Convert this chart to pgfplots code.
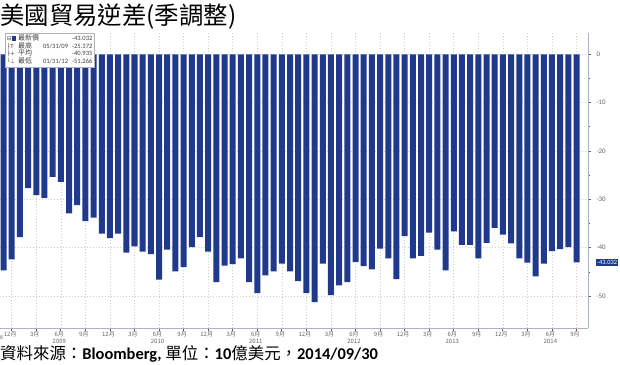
\documentclass[border=0pt]{standalone}
\usepackage{fontspec}
\setmainfont{Carlito}
\newfontfamily\cjk{Noto Sans CJK TC}
\newfontfamily\sym{DejaVu Sans}
\usepackage{pgfplots}
\usepackage{pgfplotstable}
\pgfplotsset{compat=1.18}
\definecolor{barblue}{RGB}{31,58,140}
\definecolor{tickgray}{RGB}{100,100,100}
\definecolor{axgray}{RGB}{170,180,192}

\pgfplotstableread{
i v
1 -44.7
2 -42.4
3 -37.8
4 -27.7
5 -29.1
6 -29.7
7 -25.372
8 -26.4
9 -32.9
10 -31.2
11 -34.5
12 -33.8
13 -37.1
14 -38.0
15 -37.1
16 -41.0
17 -39.7
18 -40.8
19 -41.3
20 -46.6
21 -40.4
22 -44.9
23 -44.0
24 -39.9
25 -37.8
26 -40.8
27 -47.1
28 -43.7
29 -43.4
30 -42.2
31 -47.1
32 -49.4
33 -45.7
34 -44.9
35 -43.3
36 -44.9
37 -46.9
38 -49.4
39 -51.266
40 -43.3
41 -49.8
42 -47.8
43 -47.1
44 -43.0
45 -43.8
46 -44.5
47 -40.2
48 -42.2
49 -46.5
50 -37.6
51 -42.2
52 -41.7
53 -36.9
54 -40.4
55 -44.7
56 -36.6
57 -39.4
58 -39.4
59 -42.2
60 -39.0
61 -35.9
62 -37.3
63 -39.1
64 -42.2
65 -43.1
66 -45.9
67 -43.3
68 -40.7
69 -40.3
70 -39.9
71 -43.032
}\tradedata

\begin{document}
\begin{tikzpicture}[x=1bp,y=1bp]
\path[use as bounding box] (0,-36) rectangle (620,328);
\begin{axis}[
  scale only axis, width=588bp, height=295bp,
  xmin=0.57, xmax=72.4, ymin=-56.6, ymax=4.4,
  axis x line*=bottom, axis y line*=right,
  axis line style={axgray, -},
  ybar, bar width=6bp,
  xtick={2,5,...,71},
  xticklabels={12月,3月,{6月\\2009},9月,12月,3月,{6月\\2010},9月,12月,3月,{6月\\2011},9月,12月,3月,{6月\\2012},9月,12月,3月,{6月\\2013},9月,12月,3月,{6月\\2014},9月},
  xticklabel style={font=\cjk\fontsize{6}{6.5}\selectfont, text=tickgray, align=center, xshift=-1.5bp, inner sep=1pt},
  ytick={-50,-40,-30,-20,-10,0},
  yticklabels={-50,-40,-30,-20,-10,0},
  minor y tick num=1,
  yticklabel style={font=\fontsize{7}{8}\selectfont, text=tickgray, xshift=2bp},
  tick align=outside,
  major tick length=3bp, minor tick length=2bp,
  tick style={black!65, line width=0.8pt},
  xmajorgrids, ymajorgrids,
  grid style={dash pattern=on 0.9bp off 2.1bp, gray!40, line width=0.6pt},
  extra y ticks={-43.032},
  extra y tick labels={-43.032},
  extra y tick style={grid=none, major tick length=0pt,
     yticklabel style={fill=barblue, text=white, inner sep=1pt, font=\fontsize{6.5}{7}\selectfont, xshift=6bp}},
]
\addplot[fill=barblue, draw=none] table[x=i,y=v]{\tradedata};
\end{axis}
% title
\node[anchor=north west, inner sep=0pt, font=\cjk\fontsize{24.5}{26}\selectfont] at (0,324) {美國貿易逆差(季調整)};
% legend box
\node[anchor=north west, draw=gray!60, fill=white, inner sep=1.8bp, text=black!75,
      font=\fontsize{6.6}{6.8}\selectfont] at (5,295) {%
  \renewcommand{\arraystretch}{0.82}%
  \begin{tabular}{@{}l@{\hspace{2bp}}l@{\hspace{4bp}}l@{\hspace{4bp}}r@{}}
  {\sym\fontsize{5.5}{6}\selectfont ⊟}\textcolor{barblue}{\rule{4.5bp}{4.5bp}} & {\cjk\fontsize{7}{7}\selectfont 最新價} & & -43.032\\
  {\sym\fontsize{5.5}{6}\selectfont ├T} & {\cjk\fontsize{7}{7}\selectfont 最高} & 05/31/09 & -25.372\\
  {\sym\fontsize{5.5}{6}\selectfont ├+} & {\cjk\fontsize{7}{7}\selectfont 平均} & & -40.935\\
  {\sym\fontsize{5.5}{6}\selectfont └⊥} & {\cjk\fontsize{7}{7}\selectfont 最低} & 01/31/12 & -51.266
  \end{tabular}};
% cut-off year label
\node[anchor=west, inner sep=0pt, text=tickgray, font=\fontsize{5.5}{6}\selectfont] at (0,-10) {8};
% caption
\node[anchor=south west, inner sep=0pt, font=\fontsize{16.5}{18}\selectfont] at (0,-34)
  {{\cjk 資料來源：}\textbf{Bloomberg,} {\cjk 單位：}\textbf{10}{\cjk 億美元，}\textbf{2014/09/30}};
\end{tikzpicture}
\end{document}
